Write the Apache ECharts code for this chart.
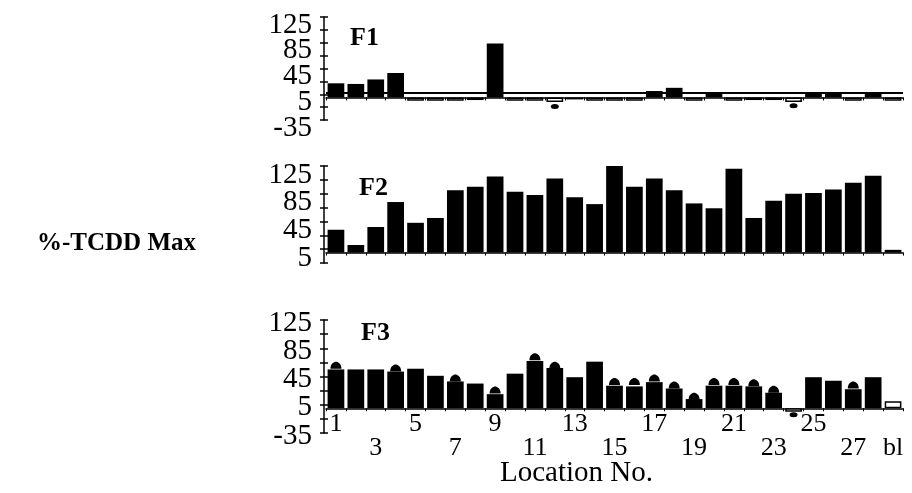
<!DOCTYPE html>
<html><head><meta charset="utf-8">
<script src="https://cdn.jsdelivr.net/npm/echarts@6/dist/echarts.min.js"></script>
<style>html,body{margin:0;padding:0;background:#fff}#c{width:912px;height:493px}</style>
</head><body><div id="c"></div>
<script>
// ---- data ----
const categories = ['1','2','3','4','5','6','7','8','9','10','11','12','13','14','15','16','17','18','19','20','21','22','23','24','25','26','27','28','bl'];
const f1Values = [22,21,28,38,-5,-5,-5,-4,84,-5,-5,-7,-3,-5,-5,-5,10,15,-5,7,-5,-4,-4,-7,8,8,-5,8,-5];
const f1Errors = [null,null,null,null,null,null,null,null,null,null,null,-14,null,null,null,null,null,null,null,null,null,null,null,-13,null,null,null,null,null];
const f1BlankLevel = 8;
const f2Values = [33,11,37,73,43,50,90,95,110,88,83,107,80,70,125,95,107,90,71,64,121,50,75,85,86,91,101,111,4];
const f3Values = [55,55,55,52,56,46,38,35,20,49,67,57,44,66,32,31,37,28,13,32,32,31,22,-5,44,39,27,44,10];
const f3Errors = [61,null,null,57,null,null,43,null,26,null,73,61,null,null,38,38,43,33,17,38,38,36,27,-9,null,null,33,null,null];
const yTicksA = [-35,-15,5,25,45,65,85,105,125];
const yLabelsA = [-35,5,45,85,125];
const yTicksB = [-15,5,25,45,65,85,105,125];
const yLabelsB = [5,45,85,125];
const panelTitles = ['F1','F2','F3'];
const yAxisTitle = '%-TCDD Max';
const xAxisTitle = 'Location No.';

// ---- chart ----
const SERIF = "'Liberation Serif','Times New Roman',serif";
const chart = echarts.init(document.getElementById('c'), null, {renderer: 'canvas'});
const panels = [
  {top: 17, height: 103, min: -35, max: 125, ticks: yTicksA, labels: yLabelsA, shift: 8, values: f1Values, errors: f1Errors, showX: false, mark: f1BlankLevel},
  {top: 166, height: 97, min: -15, max: 125, ticks: yTicksB, labels: yLabelsB, shift: 9, values: f2Values, errors: null, showX: false},
  {top: 320, height: 113, min: -35, max: 125, ticks: yTicksA, labels: yLabelsA, shift: 3, values: f3Values, errors: f3Errors, showX: true}
];
const grids = [], xAxes = [], yAxes = [], series = [];
const dome = 'path://M0,7 C0,2 3,0 5,0 C7,0 10,2 10,7 Z';
function labelStyle(p, vals) {
  return {show: true, customValues: vals, showMinLabel: true, showMaxLabel: true, hideOverlap: false, margin: 12,
    color: '#000', fontFamily: SERIF, fontSize: 29, verticalAlign: 'top', lineHeight: p.shift * 2};
}
panels.forEach((p, g) => {
  // split labels between the two overlapping y axes so neighbours never collide
  const sorted = p.labels.slice().sort((a, b) => b - a);
  const labA = sorted.filter((v, i) => i % 2 === 0);
  const labB = sorted.filter((v, i) => i % 2 === 1);
  grids.push({left: 326, right: 9, top: p.top, height: p.height, containLabel: false});
  xAxes.push({
    type: 'category', gridIndex: g, data: categories, boundaryGap: true,
    axisLine: {onZero: true, lineStyle: {color: '#000', width: 1.5}},
    axisTick: {show: true, interval: 0, length: 3, lineStyle: {color: '#000', width: 1}},
    axisLabel: p.showX ? {
      show: true, interval: 0, margin: -21, color: '#000', fontFamily: SERIF, fontSize: 26, lineHeight: 24,
      formatter: (v, i) => {
        if (v === 'bl') return '\n' + v;
        if (i % 4 === 0) return v;
        if (i % 4 === 2) return '\n' + v;
        return '';
      }
    } : {show: false},
    splitLine: {show: false}
  });
  yAxes.push({
    type: 'value', gridIndex: g, position: 'left', offset: 2, min: p.min, max: p.max, interval: 20,
    axisLine: {show: true, lineStyle: {color: '#000', width: 1.5}},
    axisTick: {show: true, inside: false, length: 4, customValues: p.ticks, lineStyle: {color: '#000', width: 1.5}},
    axisLabel: labelStyle(p, labA),
    splitLine: {show: false}
  });
  yAxes.push({
    type: 'value', gridIndex: g, position: 'left', offset: 2, min: p.min, max: p.max, interval: 20,
    axisLine: {show: false},
    axisTick: {show: true, inside: true, length: 4, customValues: p.ticks, lineStyle: {color: '#000', width: 1.5}},
    axisLabel: labelStyle(p, labB),
    splitLine: {show: false}
  });
  const bar = {
    type: 'bar', xAxisIndex: g, yAxisIndex: g * 2, barWidth: '84%',
    data: p.values.map((v, i) => {
      const hollow = v < 0 || categories[i] === 'bl';
      return hollow ? {value: v, itemStyle: {color: '#fff', borderColor: '#000', borderWidth: 1.5}} : {value: v};
    }),
    itemStyle: {color: '#000'}
  };
  if (p.mark != null) {
    bar.markLine = {silent: true, symbol: 'none', label: {show: false},
      lineStyle: {color: '#000', width: 2, type: 'solid'}, data: [{yAxis: p.mark}]};
  }
  series.push(bar);
  if (p.errors) {
    series.push({
      type: 'scatter', xAxisIndex: g, yAxisIndex: g * 2, z: 5,
      itemStyle: {color: '#000', opacity: 1},
      data: p.errors.map((v, i) => v == null ? null : {value: [i, v], symbol: v >= 0 ? dome : 'circle', symbolSize: v >= 0 ? [11, 7] : [8, 5]}).filter(d => d)
    });
  }
});

chart.setOption({
  animation: false,
  backgroundColor: '#fff',
  grid: grids, xAxis: xAxes, yAxis: yAxes, series: series,
  graphic: [
    {type: 'text', left: 350, top: 25, style: {text: panelTitles[0], font: "bold 26px " + SERIF, fill: '#000'}},
    {type: 'text', left: 359, top: 175, style: {text: panelTitles[1], font: "bold 26px " + SERIF, fill: '#000'}},
    {type: 'text', left: 361, top: 320, style: {text: panelTitles[2], font: "bold 26px " + SERIF, fill: '#000'}},
    {type: 'text', right: 716, top: 231, style: {text: yAxisTitle, font: "bold 25px " + SERIF, fill: '#000'}},
    {type: 'text', left: 500, top: 459, style: {text: xAxisTitle, font: "29px " + SERIF, fill: '#000'}}
  ]
});
</script></body></html>
